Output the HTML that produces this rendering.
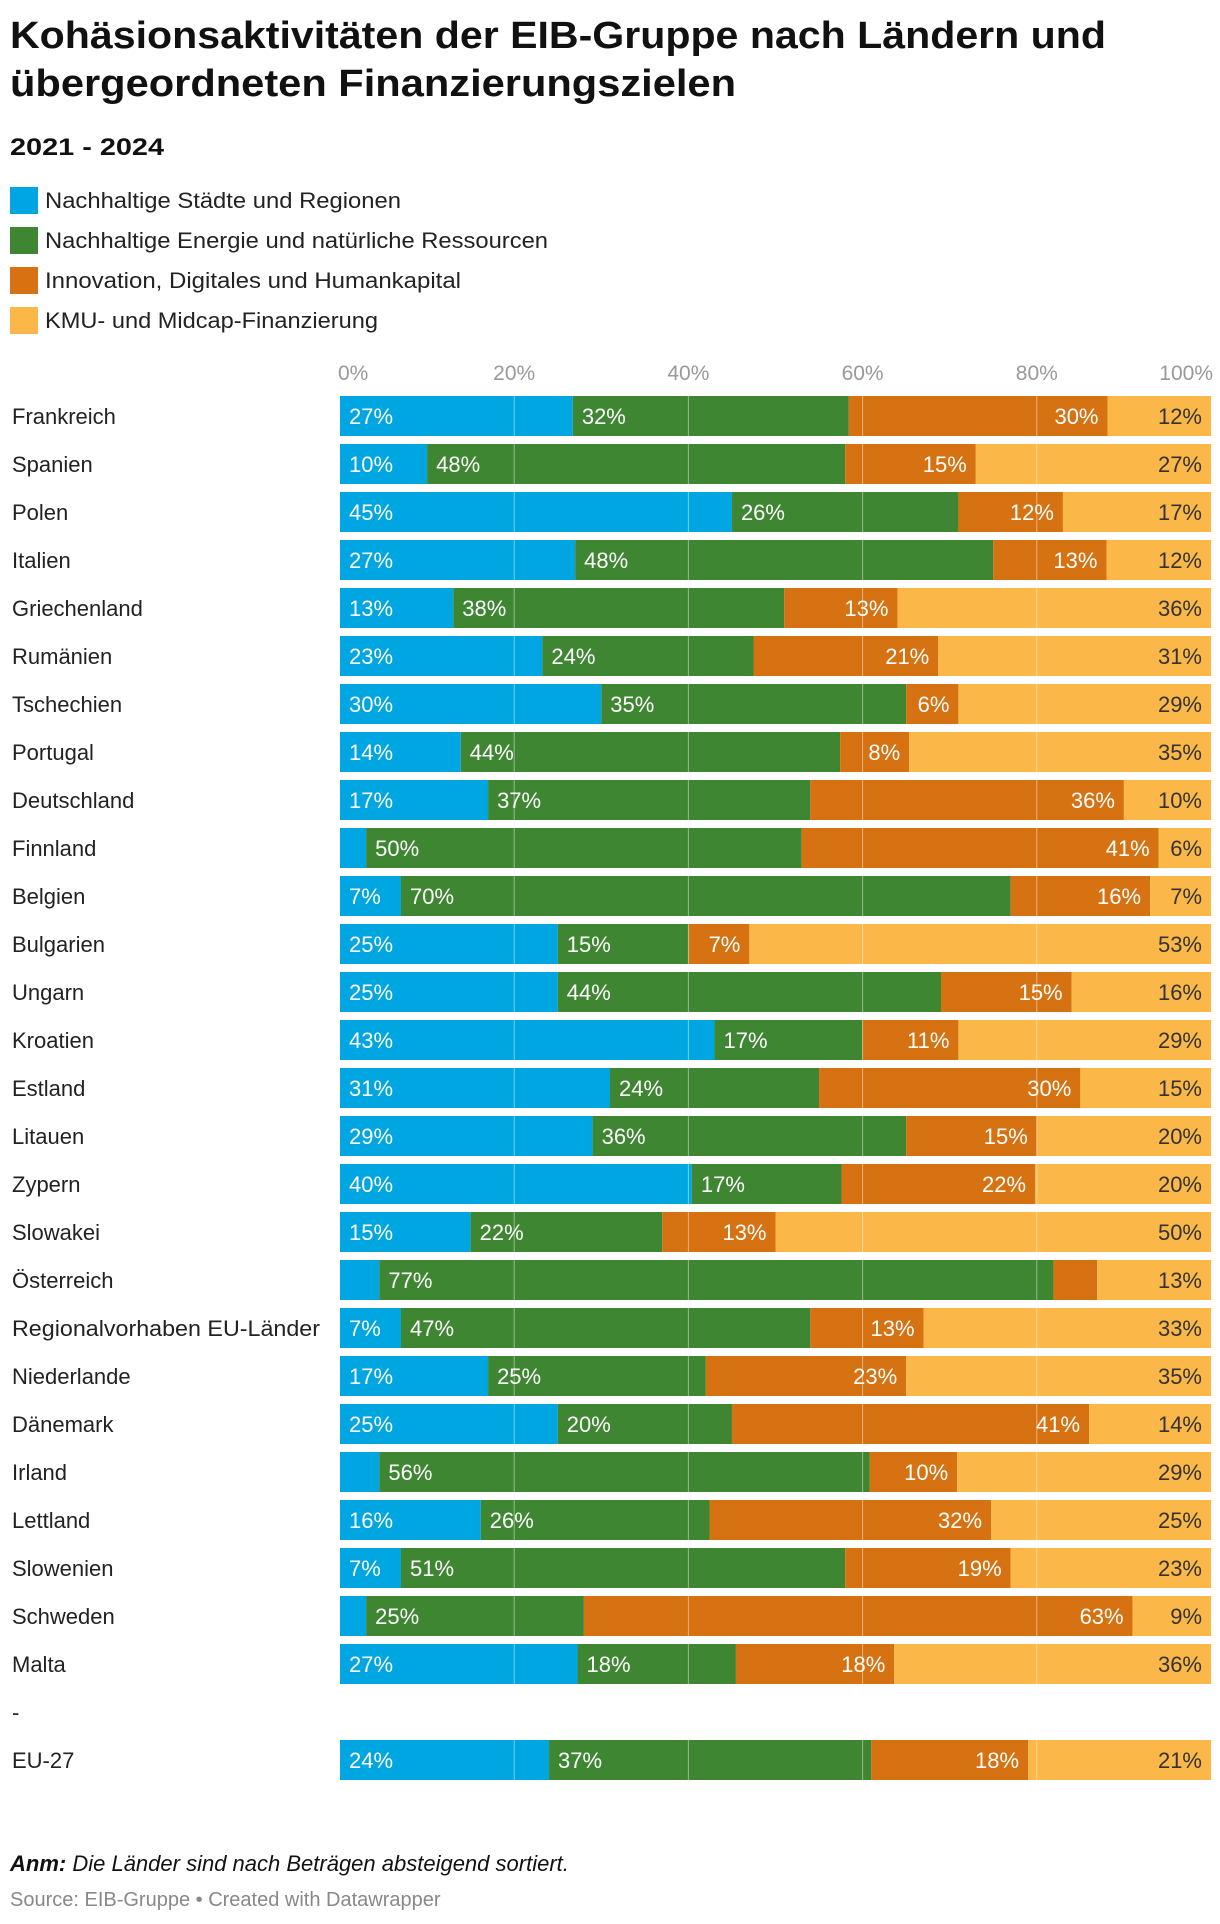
<!DOCTYPE html>
<html><head><meta charset="utf-8"><style>
html,body{margin:0;padding:0;background:#fff;width:1220px;height:1924px;overflow:hidden}
svg{display:block;font-family:"Liberation Sans",sans-serif}
</style></head><body>
<svg id="chart" width="1220" height="1924" viewBox="0 0 1220 1924">
<text x="10" y="48" font-size="38" font-weight="bold" fill="#111" textLength="1096" lengthAdjust="spacingAndGlyphs">Kohäsionsaktivitäten der EIB-Gruppe nach Ländern und</text>
<text x="10" y="96" font-size="38" font-weight="bold" fill="#111" textLength="726" lengthAdjust="spacingAndGlyphs">übergeordneten Finanzierungszielen</text>
<text x="10" y="155" font-size="24" font-weight="bold" fill="#111" textLength="154" lengthAdjust="spacingAndGlyphs">2021 - 2024</text>
<g id="legend"></g>
<g id="grid"></g>
<g id="bars"></g>
<g id="gridover"></g>
<text x="10" y="1871" font-size="22" font-style="italic" fill="#111"><tspan font-weight="bold">Anm:</tspan> Die Länder sind nach Beträgen absteigend sortiert.</text>
<text x="10" y="1906" font-size="20" fill="#888">Source: EIB-Gruppe • Created with Datawrapper</text>
</svg>
<script>
const categories=["Frankreich","Spanien","Polen","Italien","Griechenland","Rumänien","Tschechien","Portugal","Deutschland","Finnland","Belgien","Bulgarien","Ungarn","Kroatien","Estland","Litauen","Zypern","Slowakei","Österreich","Regionalvorhaben EU-Länder","Niederlande","Dänemark","Irland","Lettland","Slowenien","Schweden","Malta","-","EU-27"];
const staedte=[27,10,45,27,13,23,30,14,17,3,7,25,25,43,31,29,40,15,4.5,7,17,25,4.5,16,7,3,27,null,24];
const energie=[32,48,26,48,38,24,35,44,37,50,70,15,44,17,24,36,17,22,77,47,25,20,56,26,51,25,18,null,37];
const innovation=[30,15,12,13,13,21,6,8,36,41,16,7,15,11,30,15,22,13,5,13,23,41,10,32,19,63,18,null,18];
const kmu=[12,27,17,12,36,31,29,35,10,6,7,53,16,29,15,20,20,50,13,33,35,14,29,25,23,9,36,null,21];
const seriesNames=["Nachhaltige Städte und Regionen","Nachhaltige Energie und natürliche Ressourcen","Innovation, Digitales und Humankapital","KMU- und Midcap-Finanzierung"];
const ticks=[0,20,40,60,80,100];
const colors=["#00a6e2","#3f8633","#d67211","#fbb849"];
const NS="http://www.w3.org/2000/svg";
const X0=340,X1=1211,TOP=396,PITCH=48,BH=40;
const x=v=>X0+(X1-X0)*v/100;
const y=i=>TOP+i*PITCH;
function mk(tag,attrs,parent){const e=document.createElementNS(NS,tag);for(const k in attrs)e.setAttribute(k,attrs[k]);parent.appendChild(e);return e;}
const lg=document.getElementById('legend');
const legendLens=[356,503,416,333];
seriesNames.forEach((n,i)=>{
  const r=mk('rect',{x:10,y:187+i*40,width:28,height:27,fill:colors[i]},lg);
  
  
  const t=mk('text',{x:45,y:208+i*40,'font-size':22,fill:'#222',textLength:legendLens[i],lengthAdjust:'spacingAndGlyphs'},lg);
  t.textContent=n;
  
  
});
const gg=document.getElementById('grid');
ticks.forEach((t,i)=>{
  const anchor=i==ticks.length-1?'end':(i==0?'start':'middle');
  const tx=mk('text',{x:i==ticks.length-1?X1+2:(i==0?X0-2:x(t)),y:380,'font-size':21,fill:'#999','text-anchor':anchor},gg);
  tx.textContent=t+'%';
  
  
});
const bg=document.getElementById('bars');
const series=[staedte,energie,innovation,kmu];
categories.forEach((c,i)=>{
  const lt=mk('text',{x:12,y:y(i)+28,'font-size':22,fill:'#222'},bg);
  lt.textContent=c;
  if(c.length>20){lt.setAttribute('textLength',308);lt.setAttribute('lengthAdjust','spacingAndGlyphs');}
  
  
  if(staedte[i]==null)return;
  const vals=series.map(s=>s[i]);
  const sum=vals.reduce((a,b)=>a+b,0);
  let acc=0;
  vals.forEach((v,k)=>{
    const a=acc/sum*100,b=(acc+v)/sum*100;acc+=v;
    const r=mk('rect',{x:x(a),y:y(i),width:x(b)-x(a),height:BH,fill:colors[k]},bg);
    
    
    if(v>=5.5){
      const left=k<2;
      const t=mk('text',{x:left?x(a)+9:x(b)-9,y:y(i)+28,'font-size':22,fill:k==3?'#333':'#fff','text-anchor':left?'start':'end'},bg);
      t.textContent=Math.round(v)+'%';
      
      
    }
  });
});
const go=document.getElementById('gridover');
ticks.forEach(t=>{
  if(t==0||t==100)return;
  const l=mk('line',{x1:x(t),x2:x(t),y1:390,y2:1785,stroke:'#fff','stroke-opacity':0.45,'stroke-width':1},go);
  
  
});
</script>
</body></html>
